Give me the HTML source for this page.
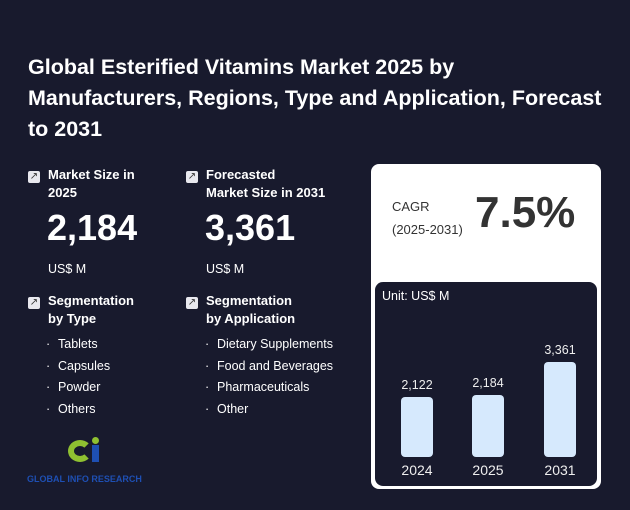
<!DOCTYPE html>
<html><head><style>
body{margin:0;width:630px;height:510px;background:#181a2d;font-family:"Liberation Sans",sans-serif;color:#fff;position:relative;overflow:hidden}
.a{position:absolute}
.t{left:28px;top:52px;font-size:21.5px;font-weight:bold;line-height:31px;width:600px;white-space:nowrap}
.ic{width:12px;height:12px;background:#e8e8ee;border-radius:2px;color:#333;font-size:10px;line-height:12px;text-align:center}
.h{font-size:13px;font-weight:bold;line-height:18px}
.big{font-size:36px;font-weight:bold}
.s{font-size:12.5px}
.li{font-size:12.5px;line-height:21.7px}
.li div:before{content:"·";display:inline-block;width:12px;margin-left:-12px}
.bar{background:#d6e9fd;border-radius:4px;width:32px}
.v{font-size:12.5px;color:#eee;text-align:center;width:60px}
</style></head><body>
<div class="a t">Global Esterified Vitamins Market 2025 by<br>Manufacturers, Regions, Type and Application, Forecast<br>to 2031</div>
<div class="a ic" style="left:28px;top:171px">↗</div>
<div class="a h" style="left:48px;top:166px">Market Size in<br>2025</div>
<div class="a big" style="left:47px;top:207px">2,184</div>
<div class="a s" style="left:48px;top:262px">US$ M</div>
<div class="a ic" style="left:186px;top:171px">↗</div>
<div class="a h" style="left:206px;top:166px">Forecasted<br>Market Size in 2031</div>
<div class="a big" style="left:205px;top:207px">3,361</div>
<div class="a s" style="left:206px;top:262px">US$ M</div>
<div class="a ic" style="left:28px;top:297px">↗</div>
<div class="a h" style="left:48px;top:292px">Segmentation<br>by Type</div>
<div class="a ic" style="left:186px;top:297px">↗</div>
<div class="a h" style="left:206px;top:292px">Segmentation<br>by Application</div>
<div class="a li" style="left:58px;top:334px"><div>Tablets</div><div>Capsules</div><div>Powder</div><div>Others</div></div>
<div class="a li" style="left:217px;top:334px"><div>Dietary Supplements</div><div>Food and Beverages</div><div>Pharmaceuticals</div><div>Other</div></div>
<div class="a" style="left:68px;top:440px;width:24px;height:22px;border:6px solid #8fc031;border-radius:50%;box-sizing:border-box;border-right-color:transparent"></div>
<div class="a" style="left:92px;top:445px;width:7px;height:17px;background:#1e4fb3"></div>
<div class="a" style="left:92px;top:437px;width:7px;height:7px;background:#8fc031;border-radius:50%"></div>
<div class="a" style="left:27px;top:474px;font-size:9px;font-weight:bold;color:#1e4fb3">GLOBAL INFO RESEARCH</div>
<div class="a" style="left:371px;top:164px;width:230px;height:325px;background:#fff;border-radius:8px"></div>
<div class="a" style="left:392px;top:195px;color:#333;font-size:13px;line-height:23px">CAGR<br>(2025-2031)</div>
<div class="a" style="left:475px;top:188px;color:#333;font-size:44px;font-weight:bold">7.5%</div>
<div class="a" style="left:375px;top:282px;width:222px;height:204px;background:#181a2d;border-radius:8px"></div>
<div class="a" style="left:382px;top:289px;font-size:12.5px">Unit: US$ M</div>
<div class="a bar" style="left:401px;top:397px;height:60px"></div>
<div class="a bar" style="left:472px;top:395px;height:62px"></div>
<div class="a bar" style="left:544px;top:362px;height:95px"></div>
<div class="a v" style="left:387px;top:378px">2,122</div>
<div class="a v" style="left:458px;top:376px">2,184</div>
<div class="a v" style="left:530px;top:343px">3,361</div>
<div class="a v" style="left:387px;top:462px;font-size:14px">2024</div>
<div class="a v" style="left:458px;top:462px;font-size:14px">2025</div>
<div class="a v" style="left:530px;top:462px;font-size:14px">2031</div>
</body></html>
